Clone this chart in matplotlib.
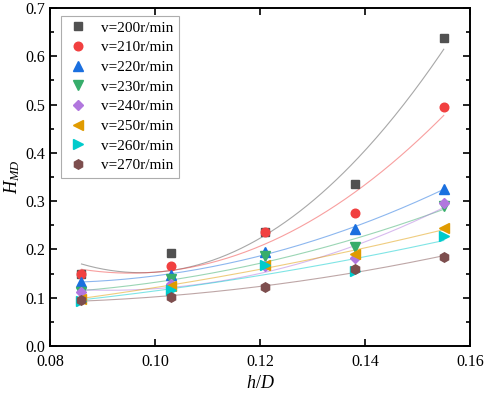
import numpy as np
import matplotlib
matplotlib.use("Agg")
import matplotlib.pyplot as plt

plt.rcParams['font.family'] = ['Liberation Serif', 'DejaVu Serif']
plt.rcParams['mathtext.fontset'] = 'custom'
plt.rcParams['mathtext.it'] = 'Liberation Serif:italic'
plt.rcParams['mathtext.rm'] = 'Liberation Serif'

# --- data ---
h_D = [0.086, 0.103, 0.121, 0.138, 0.155]

labels = ["v=200r/min", "v=210r/min", "v=220r/min", "v=230r/min",
          "v=240r/min", "v=250r/min", "v=260r/min", "v=270r/min"]

H_200 = [0.150, 0.193, 0.237, 0.335, 0.637]
H_210 = [0.150, 0.166, 0.236, 0.275, 0.495]
H_220 = [0.133, 0.147, 0.195, 0.242, 0.326]
H_230 = [0.112, 0.138, 0.186, 0.204, 0.290]
H_240 = [0.111, 0.128, 0.166, 0.183, 0.297]
H_250 = [0.098, 0.125, 0.168, 0.190, 0.244]
H_260 = [0.093, 0.117, 0.168, 0.155, 0.228]
H_270 = [0.095, 0.101, 0.122, 0.159, 0.184]
series = [H_200, H_210, H_220, H_230, H_240, H_250, H_260, H_270]

colors = ["#515151", "#F14040", "#1A6FDF", "#37AD6B",
          "#B177DE", "#E09B00", "#00CBCC", "#7D4E4E"]
markers = ["s", "o", "^", "v", "D", "<", ">", "h"]
sizes = [5.3, 6.2, 7, 7, 5.3, 7, 7, 6.8]

fig = plt.figure(figsize=(4.84, 3.94), dpi=100)
ax = fig.add_axes([50/484, 1-346/394, 420/484, 338/394])

# quadratic fit lines through each series
xfit = np.linspace(h_D[0], h_D[-1], 200)
for y, c in zip(series, colors):
    p = np.polyfit(h_D, y, 2)
    ax.plot(xfit, np.polyval(p, xfit), color=c, lw=0.8, alpha=0.5, zorder=2)

for y, c, m, s, lab in zip(series, colors, markers, sizes, labels):
    ax.plot(h_D, y, ls="none", marker=m, ms=s, color=c, mec=c, label=lab, zorder=3)

ax.set_xlim(0.08, 0.16)
ax.set_ylim(0.0, 0.7)
ax.set_xticks([0.08, 0.10, 0.12, 0.14, 0.16])
ax.set_xticklabels(["0.08", "0.10", "0.12", "0.14", "0.16"])
ax.set_yticks(np.arange(0, 0.71, 0.1))
ax.set_yticklabels(["%.1f" % v for v in np.arange(0, 0.71, 0.1)])
ax.set_yticks(np.arange(0.05, 0.7, 0.1), minor=True)
ax.tick_params(which="both", direction="in", top=True, right=True,
               labelsize=11.5, width=1.2)
ax.tick_params(which="major", length=5)
ax.tick_params(which="minor", length=3)
ax.tick_params(axis="x", pad=6)
for sp in ax.spines.values():
    sp.set_linewidth(1.4)

ax.set_xlabel("$h/D$", fontsize=13, labelpad=3)
ax.set_ylabel("$H_{MD}$", fontsize=13, labelpad=2)

leg = ax.legend(loc="upper left", bbox_to_anchor=(0.026, 0.977), frameon=True,
                fancybox=False, edgecolor="#999999", fontsize=11,
                labelspacing=0.39, handletextpad=0.7, borderpad=0.35,
                handlelength=1.6, borderaxespad=0)
leg.get_frame().set_linewidth(0.8)

fig.savefig("out.png", dpi=100)
